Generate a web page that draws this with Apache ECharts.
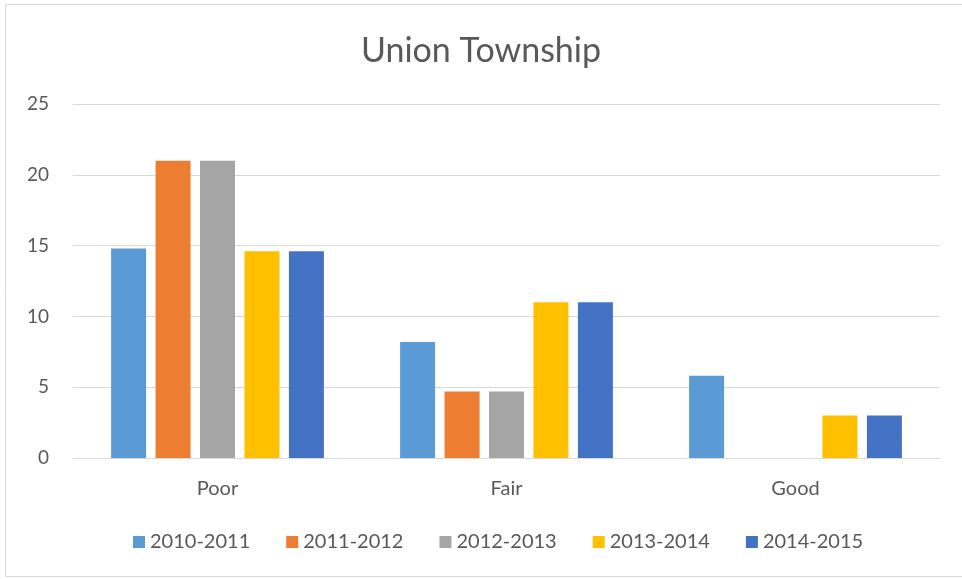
<!DOCTYPE html>
<html>
<head>
<meta charset="utf-8">
<script src="https://cdn.jsdelivr.net/npm/echarts@6/dist/echarts.min.js"></script>
<style>
  html, body { margin: 0; padding: 0; background: #fff; }
  #chart { width: 962px; height: 579px; }
</style>
</head>
<body>
<div id="chart"></div>
<script>
const categories = ['Poor', 'Fair', 'Good']
const seriesNames = ['2010-2011', '2011-2012', '2012-2013', '2013-2014', '2014-2015']
const values2010 = [14.8, 8.2, 5.8]
const values2011 = [21, 4.7, 0]
const values2012 = [21, 4.7, 0]
const values2013 = [14.6, 11, 3]
const values2014 = [14.6, 11, 3]
const colors = ['#5b9bd5', '#ed7d31', '#a5a5a5', '#ffc000', '#4472c4']
const yTicks = [0, 5, 10, 15, 20, 25]

const allValues = [values2010, values2011, values2012, values2013, values2014]
const font = 'Lato, "Open Sans", sans-serif'

const chart = echarts.init(document.getElementById('chart'))
chart.setOption({
  animation: false,
  color: colors,
  textStyle: { fontFamily: font },
  title: {
    text: 'Union Township',
    left: 'center',
    top: 29,
    textStyle: { fontSize: 34, fontWeight: 'normal', color: '#595959', fontFamily: font }
  },
  graphic: [{
    type: 'rect',
    shape: { x: 5.5, y: 4.5, width: 1000, height: 572 },
    style: { fill: 'none', stroke: '#d9d9d9', lineWidth: 1 },
    silent: true
  }],
  legend: {
    data: seriesNames,
    bottom: 22,
    left: 128,
    itemWidth: 12,
    itemHeight: 12,
    itemGap: 36,
    icon: 'rect',
    textStyle: { fontSize: 20, color: '#595959', fontFamily: font }
  },
  grid: {
    left: 73,
    right: 22,
    top: 104,
    bottom: 121
  },
  xAxis: {
    type: 'category',
    data: categories,
    axisTick: { show: false },
    axisLine: { lineStyle: { color: '#d9d9d9' } },
    axisLabel: { fontSize: 20, color: '#595959', margin: 21, fontFamily: font }
  },
  yAxis: {
    type: 'value',
    min: yTicks[0],
    max: yTicks[yTicks.length - 1],
    interval: 5,
    axisLine: { show: false },
    axisTick: { show: false },
    splitLine: { lineStyle: { color: '#d9d9d9' } },
    axisLabel: { fontSize: 19, color: '#595959', margin: 24, fontFamily: font }
  },
  series: seriesNames.map((name, i) => ({
    name: name,
    type: 'bar',
    data: allValues[i],
    barWidth: 35,
    barGap: '27%'
  }))
})
</script>
</body>
</html>
